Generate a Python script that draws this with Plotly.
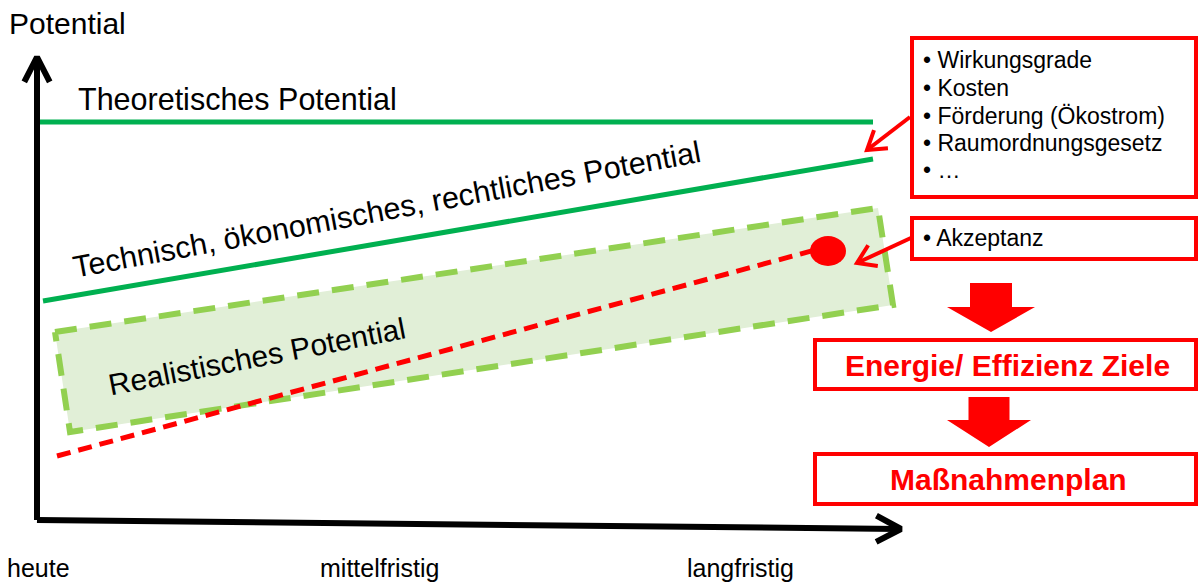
import math
import plotly.graph_objects as go

W, H = 1199, 585
FONT = "Arial, Liberation Sans, sans-serif"
RED = "#FF0000"
GREEN = "#00B050"
LIGHT_GREEN = "#92D050"
BAND_FILL = "#E1EFD7"

# ---- schematic values (canvas units, y grows upward) ----
time_labels = ["heute", "mittelfristig", "langfristig"]
time_label_x = [5, 318, 685]

theo_x = [40, 873]
theo_y = [463, 463]

tech_x = [43, 873]
tech_y = [284, 426]

band_x = [55, 878, 893, 70, 55]
band_y = [253, 377, 280, 153, 253]

accept_x = [57, 815]
accept_y = [129, 335]
accept_dot = (828, 334)

factor_items = ["Wirkungsgrade", "Kosten", "Förderung (Ökostrom)",
                "Raumordnungsgesetz", "…"]
factor_item_y = [525, 497, 469, 442, 415]

# y axis and x axis of the diagram
yaxis_x = [37, 37]
yaxis_y = [65, 526]
xaxis_x = [37, 899]
xaxis_y = [65, 56]

fig = go.Figure()


def line(xs, ys, color, width, dash=None, fill=None, fillcolor=None):
    fig.add_trace(go.Scatter(
        x=xs, y=ys, mode="lines",
        line=dict(color=color, width=width, dash=dash),
        fill=fill, fillcolor=fillcolor,
        hoverinfo="skip", showlegend=False))


def chevron(tail, tip, length, half_angle, color, width):
    dx, dy = tip[0] - tail[0], tip[1] - tail[1]
    n = math.hypot(dx, dy)
    ux, uy = -dx / n, -dy / n
    pts = []
    for s in (1, -1):
        a = math.radians(half_angle) * s
        rx = ux * math.cos(a) - uy * math.sin(a)
        ry = ux * math.sin(a) + uy * math.cos(a)
        pts.append((tip[0] + rx * length, tip[1] + ry * length))
    line([pts[0][0], tip[0], pts[1][0]], [pts[0][1], tip[1], pts[1][1]],
         color, width)


def block_arrow(cx, shaft_half, head_half, top, neck, tip_y):
    xs = [cx - shaft_half, cx - shaft_half, cx - head_half, cx,
          cx + head_half, cx + shaft_half, cx + shaft_half, cx - shaft_half]
    ys = [top, neck, neck, tip_y, neck, neck, top, top]
    fig.add_trace(go.Scatter(
        x=xs, y=ys, mode="lines", fill="toself", fillcolor=RED,
        line=dict(color=RED, width=0), hoverinfo="skip", showlegend=False))


# realistic potential band
line(band_x, band_y, LIGHT_GREEN, 6, dash="22px,13px", fill="toself",
     fillcolor=BAND_FILL)

# potential lines
line(theo_x, theo_y, GREEN, 5)
line(tech_x, tech_y, GREEN, 5)
line(accept_x, accept_y, RED, 5, dash="14px,8px")

# axes with open arrowheads
line(yaxis_x, yaxis_y, "black", 6)
line(xaxis_x, xaxis_y, "black", 6)
chevron((yaxis_x[0], yaxis_y[0]), (yaxis_x[1], yaxis_y[1] + 2), 28, 27, "black", 6)
chevron((xaxis_x[0], xaxis_y[0]), (xaxis_x[1] + 2, xaxis_y[1]), 28, 28, "black", 6)

# pointers from the boxes
chevron((910, 468), (867, 435), 21, 33, RED, 4)
line([910, 867], [468, 435], RED, 4)
chevron((913, 348), (857, 322), 21, 33, RED, 4)
line([913, 857], [348, 322], RED, 4)

# flow arrows
block_arrow(991, 21, 44, 302, 278, 253)
block_arrow(989, 20.5, 42, 188, 165, 138)

shapes = [
    dict(type="circle", x0=accept_dot[0] - 18, x1=accept_dot[0] + 18,
         y0=accept_dot[1] - 15, y1=accept_dot[1] + 15,
         fillcolor=RED, line=dict(width=0)),
    dict(type="rect", x0=912, x1=1196, y0=388, y1=547,
         line=dict(color=RED, width=4), fillcolor="white", layer="below"),
    dict(type="rect", x0=912, x1=1196, y0=326, y1=367,
         line=dict(color=RED, width=4), fillcolor="white", layer="below"),
    dict(type="rect", x0=815, x1=1196, y0=196, y1=245,
         line=dict(color=RED, width=4), fillcolor="white", layer="below"),
    dict(type="rect", x0=815, x1=1196, y0=81, y1=131,
         line=dict(color=RED, width=4), fillcolor="white", layer="below"),
]

ann = []


def text(x, y, s, size, color="black", xanchor="left", angle=0, bold=False):
    ann.append(dict(x=x, y=y, text=f"<b>{s}</b>" if bold else s,
                    showarrow=False, xanchor=xanchor, yanchor="middle",
                    textangle=angle,
                    font=dict(family=FONT, size=size, color=color)))


text(7, 562, "Potential", 30)
text(76, 486, "Theoretisches Potential", 30.5)
text(386, 376, "Technisch, ökonomisches, rechtliches Potential", 30.5,
     xanchor="center", angle=-10.5)
text(257, 229, "Realistisches Potential", 30, xanchor="center", angle=-11)

for lbl, lx in zip(time_labels, time_label_x):
    text(lx, 17, lbl, 25)

for item, iy in zip(factor_items, factor_item_y):
    text(921, iy, "• " + item, 23)
text(921, 347, "• Akzeptanz", 23)

text(1007, 220, "Energie/ Effizienz Ziele", 30, color=RED, xanchor="center",
     bold=True)
text(1008, 106, "Maßnahmenplan", 30, color=RED, xanchor="center", bold=True)

fig.update_layout(
    width=W, height=H,
    margin=dict(l=0, r=0, t=0, b=0),
    paper_bgcolor="white", plot_bgcolor="white",
    xaxis=dict(range=[0, W], visible=False, fixedrange=True),
    yaxis=dict(range=[0, H], visible=False, fixedrange=True),
    shapes=shapes, annotations=ann,
)

fig.write_html("out.html", config={"displayModeBar": False})
